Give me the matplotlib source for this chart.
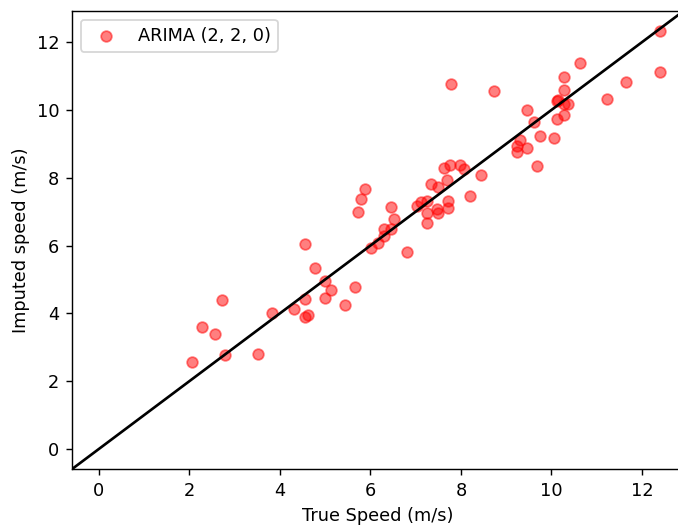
import matplotlib
matplotlib.use('Agg')
import matplotlib.pyplot as plt


# True vs imputed wind speed (m/s)

true_speed = [ 2.06, 2.28, 2.56, 2.72, 2.78, 3.52, 3.82, 4.32, 4.55, 4.55,
               4.55, 4.62, 4.77, 4.99, 4.99, 5.14, 5.43, 5.65, 5.72, 5.80,
               5.87, 6.02, 6.17, 6.31, 6.30, 6.45, 6.53, 6.46, 6.82, 7.04,
               7.11, 7.26, 7.26, 7.26, 7.35, 7.49, 7.48, 7.49, 7.71, 7.71,
               7.70, 7.62, 7.77, 7.99, 8.07, 8.21, 8.44, 7.78, 8.73, 9.24,
               9.24, 9.31, 9.47, 9.68, 9.75, 10.05, 9.61, 9.47, 10.12, 10.15,
               10.37, 10.27, 10.12, 10.28, 10.27, 10.27, 10.64, 11.22, 11.66, 12.40,
               12.40
               ]

imputed_speed = [ 2.58, 3.60, 3.40, 4.39, 2.77, 2.81, 4.02, 4.12, 6.05, 4.42,
                  3.89, 3.96, 5.35, 4.97, 4.45, 4.70, 4.25, 4.79, 7.00, 7.37,
                  7.67, 5.93, 6.07, 6.27, 6.50, 6.49, 6.78, 7.15, 5.81, 7.17,
                  7.30, 7.32, 6.96, 6.66, 7.82, 7.72, 7.08, 6.96, 7.33, 7.10,
                  7.94, 8.30, 8.38, 8.39, 8.26, 7.45, 8.08, 10.76, 10.57, 8.75,
                  8.95, 9.12, 8.87, 8.36, 9.24, 9.16, 9.65, 10.01, 10.27, 10.30,
                  10.19, 10.19, 9.73, 9.85, 10.60, 10.98, 11.38, 10.33, 10.83, 12.34,
                  11.12
                  ]

model_label = 'ARIMA (2, 2, 0)'
axis_limits = [ -0.6, 12.93 ]


# Figure and axes (the right spine sits just past the picture's edge):

dpi = 128
fig = plt.figure( figsize= (678 / dpi, 525 / dpi), dpi= dpi )
ax = fig.add_axes( [0.1058, 0.1061, 0.903, 0.8735] )


# Plotting:

ax.scatter( true_speed, imputed_speed,
            color= 'red',
            alpha= 0.5,
            label= model_label
            )
ax.plot( axis_limits, axis_limits,
         color= 'black',
         linewidth= 1.5
         )


# Labelling:

ax.set_xlim( axis_limits )
ax.set_ylim( axis_limits )
ax.set_xticks( [0, 2, 4, 6, 8, 10, 12] )
ax.set_yticks( [0, 2, 4, 6, 8, 10, 12] )
ax.set_xlabel( 'True Speed (m/s)' )
ax.set_ylabel( 'Imputed speed (m/s)' )
ax.legend( loc= 'upper left' )

fig.savefig( 'out.png', dpi= dpi )
